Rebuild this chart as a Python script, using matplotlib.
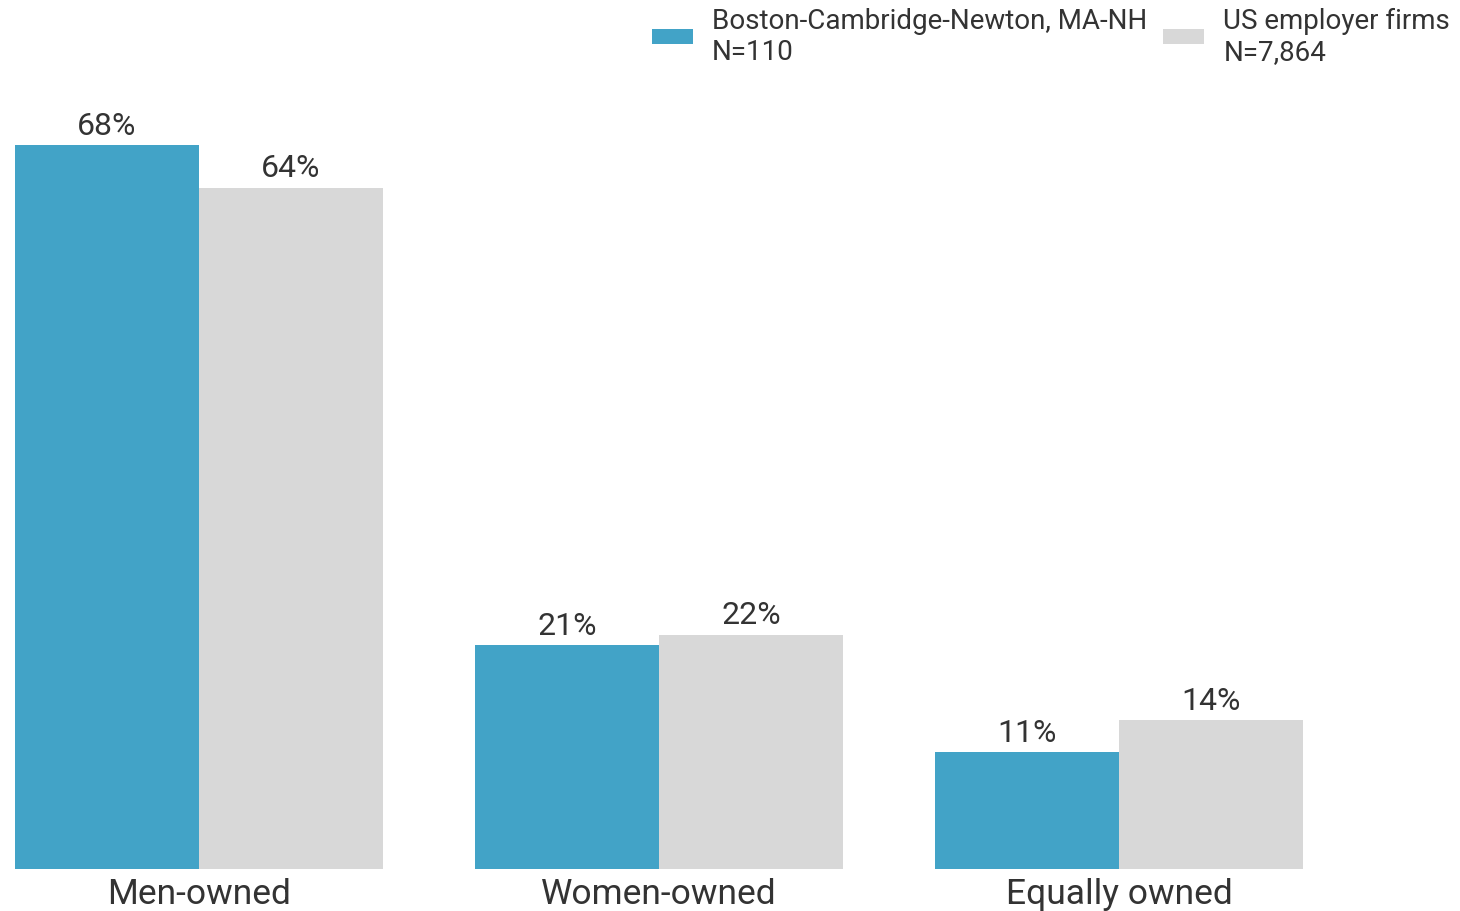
import numpy as np
import matplotlib
matplotlib.use('Agg')
import matplotlib.pyplot as plt

plt.rcParams['font.family'] = ['Roboto', 'DejaVu Sans']

categories = ['Men-owned', 'Women-owned', 'Equally owned']
boston = [68, 21, 11]
us_firms = [64, 22, 14]
series_names = ['Boston-Cambridge-Newton, MA-NH\nN=110', 'US employer firms\nN=7,864']

col_boston = '#42a3c7'
col_us = '#d8d8d8'
txt_col = '#333333'

fig = plt.figure(figsize=(14.6, 9.12), dpi=100)
ax = fig.add_axes([15 / 1460, 1 - 870 / 912, 1288 / 1460, 851.8 / 912])

x = np.arange(len(categories))
w = 0.4
b1 = ax.bar(x - w / 2, boston, w, color=col_boston, label=series_names[0])
b2 = ax.bar(x + w / 2, us_firms, w, color=col_us, label=series_names[1])

for bars, vals in [(b1, boston), (b2, us_firms)]:
    for r, v in zip(bars, vals):
        ax.text(r.get_x() + r.get_width() / 2, v + 0.5, str(v) + '%',
                ha='center', va='bottom', fontsize=23, color=txt_col)

ax.set_xlim(-0.4, 2.4)
ax.set_ylim(0, 80)
ax.set_xticks(x)
ax.set_xticklabels(categories, fontsize=25.5, color=txt_col)
ax.tick_params(axis='x', length=0, pad=6)
ax.set_yticks([])
for s in ax.spines.values():
    s.set_visible(False)

leg = fig.legend(handles=[b1, b2], loc='upper right', bbox_to_anchor=(1450 / 1460, 1 - 8 / 912),
                 ncol=2, frameon=False, fontsize=20, handlelength=1.5, handleheight=0.45,
                 handletextpad=0.68, columnspacing=0.55, labelspacing=0.2,
                 borderpad=0, borderaxespad=0)
for t in leg.get_texts():
    t.set_color(txt_col)
    t.set_linespacing(1.2)

fig.savefig('out.png', dpi=100)
